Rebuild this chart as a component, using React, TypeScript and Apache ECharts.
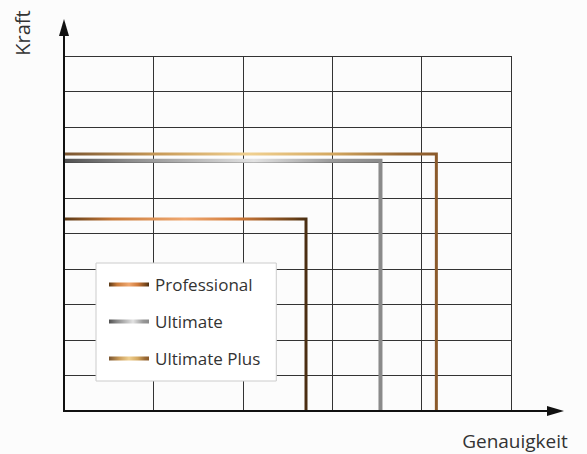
import React, { useEffect, useRef } from "react";
import * as echarts from "echarts";

const seriesNames = ["Professional", "Ultimate", "Ultimate Plus"];
const professional = [[0, 5.41], [2.707, 5.41], [2.707, 0]];
const ultimate = [[0, 7.05], [3.54, 7.05], [3.54, 0]];
const ultimatePlus = [[0, 7.24], [4.165, 7.24], [4.165, 0]];
const xAxisName = "Genauigkeit";
const yAxisName = "Kraft";

const grad = (stops: [number, string][]) =>
  new echarts.graphic.LinearGradient(
    0, 0, 1, 0,
    stops.map(([offset, color]) => ({ offset, color }))
  );

export default function App() {
  const ref = useRef<HTMLDivElement>(null);
  useEffect(() => {
    if (!ref.current) return;
    const chart = echarts.init(ref.current, undefined, { renderer: "svg" });
    const profGrad = grad([
      [0, "#5a3815"], [0.2, "#c87a3a"], [0.5, "#f0a870"], [0.72, "#d07a3a"], [0.95, "#6a4018"], [1, "#4a2e12"],
    ]);
    const ultGrad = grad([
      [0, "#505050"], [0.2, "#8a8a8a"], [0.6, "#e2e2e2"], [0.85, "#999999"], [1, "#8a8a8a"],
    ]);
    const plusGrad = grad([
      [0, "#7a5530"], [0.25, "#c89a58"], [0.5, "#f0d090"], [0.72, "#d4a860"], [0.9, "#9a6a35"], [1, "#8b5a2b"],
    ]);
    const mk = (name: string, data: number[][], color: any, width: number, z: number) => ({
      name,
      type: "line",
      data,
      symbol: "none",
      z,
      lineStyle: { color, width, join: "miter", cap: "butt" },
      itemStyle: { color },
    });
    const axisColor = "#111";
    chart.setOption({
      animation: false,
      backgroundColor: "#fcfcfc",
      grid: { left: 64, right: 76, top: 56, bottom: 43 },
      xAxis: {
        type: "value",
        min: 0,
        max: 5,
        interval: 1,
        axisLine: { show: false },
        axisTick: { show: false },
        axisLabel: { show: false },
        splitLine: { show: true, lineStyle: { color: "#333", width: 1 } },
      },
      yAxis: {
        type: "value",
        min: 0,
        max: 10,
        interval: 1,
        axisLine: { show: false },
        axisTick: { show: false },
        axisLabel: { show: false },
        splitLine: { show: true, lineStyle: { color: "#333", width: 1 } },
      },
      legend: {
        orient: "vertical",
        left: 96,
        top: 263,
        padding: [13, 16, 14, 13],
        itemGap: 20,
        itemWidth: 40,
        itemHeight: 4,
        icon: "rect",
        backgroundColor: "#ffffff",
        borderColor: "#cccccc",
        borderWidth: 1,
        textStyle: { fontFamily: "Open Sans", fontSize: 17, color: "#333", padding: [0, 0, 0, 1] },
        data: seriesNames,
      },
      series: [
        mk(seriesNames[0], professional, profGrad, 3, 3),
        mk(seriesNames[1], ultimate, ultGrad, 4, 2),
        mk(seriesNames[2], ultimatePlus, plusGrad, 3, 4),
      ],
      graphic: [
        { type: "line", shape: { x1: 64, y1: 411, x2: 64, y2: 34 }, style: { stroke: axisColor, lineWidth: 2 }, z: 100 },
        { type: "polygon", shape: { points: [[64, 19], [59, 36], [69, 36]] }, style: { fill: axisColor }, z: 100 },
        { type: "line", shape: { x1: 63, y1: 411, x2: 549, y2: 411 }, style: { stroke: axisColor, lineWidth: 2 }, z: 100 },
        { type: "polygon", shape: { points: [[564, 411], [547, 406], [547, 416]] }, style: { fill: axisColor }, z: 100 },
        {
          type: "text",
          x: 22,
          y: 33,
          rotation: Math.PI / 2,
          style: { text: yAxisName, fontFamily: "Open Sans", fontSize: 20, fill: "#333", align: "center", verticalAlign: "middle" },
        },
        {
          type: "text",
          x: 515,
          y: 441,
          style: { text: xAxisName, fontFamily: "Open Sans", fontSize: 19, fill: "#333", align: "center", verticalAlign: "middle" },
        },
      ],
    });
    return () => chart.dispose();
  }, []);
  return <div ref={ref} style={{ position: "fixed", left: 0, top: 0, width: 587, height: 454 }} />;
}
